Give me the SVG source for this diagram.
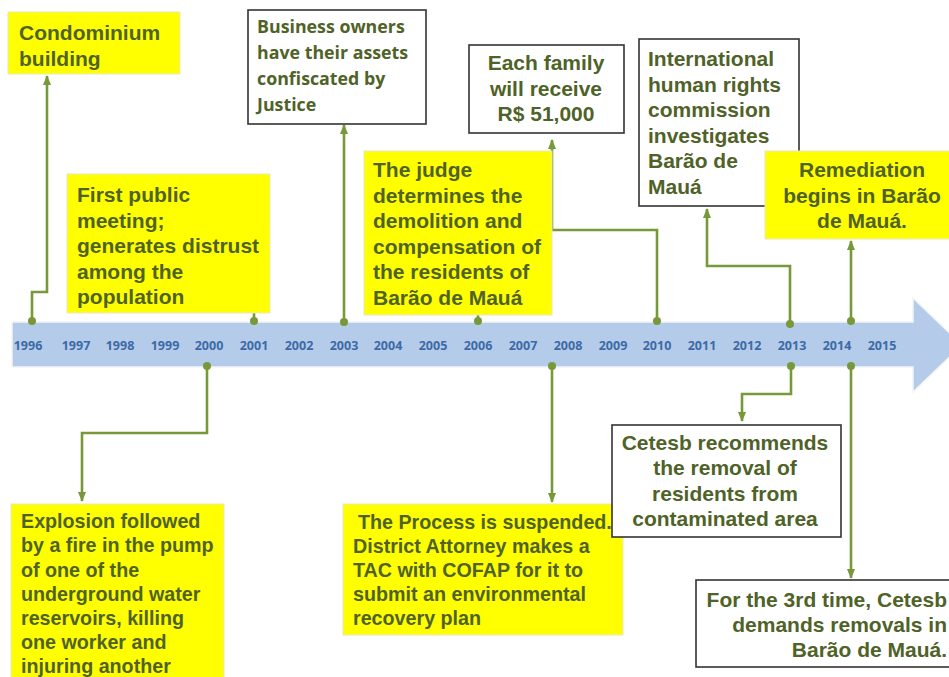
<svg xmlns="http://www.w3.org/2000/svg" width="949" height="677" viewBox="0 0 949 677">
<defs>
<marker id="ah" markerUnits="userSpaceOnUse" markerWidth="10" markerHeight="10" viewBox="0 0 10 10" refX="9" refY="5" orient="auto"><path d="M0,1 L10,5 L0,9 Z" fill="#77993A"/></marker>
<style>
.y{fill:#FFFF00;stroke:#E8E8C0;stroke-width:1}
.w{fill:#FFFFFF;stroke:#333333;stroke-width:1.6}
.t{font-family:"Liberation Sans",Arial,sans-serif;font-weight:bold;font-size:21px;fill:#4F6228}
.s{font-size:19.7px}
.t2{font-family:"Open Sans","Liberation Sans",sans-serif;font-weight:bold;font-size:17.8px;fill:#4F6228}
.yr{font-family:"Open Sans","Liberation Sans",sans-serif;font-weight:bold;font-size:12.5px;fill:#3D6AA6;text-anchor:middle}
.c{fill:none;stroke:#77993A;stroke-width:2.6}
.d{fill:#77993A}
</style>
</defs>
<rect width="949" height="677" fill="#FFFFFF"/>
<g id="timeline">
<polygon points="12,322 913,322 913,298 962,345 913,392 913,367 12,367" fill="#B4CCE9" stroke="#F2F4F8" stroke-width="1.5"/>
<text class="yr" x="28" y="350">1996</text>
<text class="yr" x="76" y="350">1997</text>
<text class="yr" x="120" y="350">1998</text>
<text class="yr" x="165" y="350">1999</text>
<text class="yr" x="209" y="350">2000</text>
<text class="yr" x="254" y="350">2001</text>
<text class="yr" x="299" y="350">2002</text>
<text class="yr" x="344" y="350">2003</text>
<text class="yr" x="388" y="350">2004</text>
<text class="yr" x="433" y="350">2005</text>
<text class="yr" x="478" y="350">2006</text>
<text class="yr" x="523" y="350">2007</text>
<text class="yr" x="568" y="350">2008</text>
<text class="yr" x="613" y="350">2009</text>
<text class="yr" x="657" y="350">2010</text>
<text class="yr" x="702" y="350">2011</text>
<text class="yr" x="747" y="350">2012</text>
<text class="yr" x="792" y="350">2013</text>
<text class="yr" x="837" y="350">2014</text>
<text class="yr" x="882" y="350">2015</text>
</g>
<g id="connectors">
<polyline class="c" points="32,321 32,292 47,292 47,76" marker-end="url(#ah)"/>
<polyline class="c" points="254,321 254,313"/>
<polyline class="c" points="344,321 344,125" marker-end="url(#ah)"/>
<polyline class="c" points="478,321 478,315"/>
<polyline class="c" points="657,321 657,230 552,230 552,140" marker-end="url(#ah)"/>
<polyline class="c" points="790,323 790,266 707,266 707,209" marker-end="url(#ah)"/>
<polyline class="c" points="851,321 851,241" marker-end="url(#ah)"/>
<polyline class="c" points="207,366 207,433 82,433 82,501" marker-end="url(#ah)"/>
<polyline class="c" points="552,366 552,502" marker-end="url(#ah)"/>
<polyline class="c" points="791,366 791,394 742,394 742,421" marker-end="url(#ah)"/>
<polyline class="c" points="851,366 851,578" marker-end="url(#ah)"/>
<circle class="d" cx="32" cy="321" r="4"/>
<circle class="d" cx="254" cy="321" r="4"/>
<circle class="d" cx="344" cy="322" r="4"/>
<circle class="d" cx="478" cy="321" r="4"/>
<circle class="d" cx="657" cy="321" r="4"/>
<circle class="d" cx="790" cy="324" r="4"/>
<circle class="d" cx="851" cy="321" r="4"/>
<circle class="d" cx="207" cy="366" r="4"/>
<circle class="d" cx="552" cy="366" r="4"/>
<circle class="d" cx="791" cy="366" r="4"/>
<circle class="d" cx="851" cy="366" r="4"/>
</g>
<g id="n1996">
<rect class="y" x="8" y="12" width="172" height="62"/>
<text class="t" x="19" y="40">Condominium</text>
<text class="t" x="19" y="66">building</text>
</g>
<g id="n2001">
<rect class="y" x="67" y="174" width="203" height="139"/>
<text class="t" x="77" y="202">First public</text>
<text class="t" x="77" y="227.5">meeting;</text>
<text class="t" x="77" y="253">generates distrust</text>
<text class="t" x="77" y="278.5">among the</text>
<text class="t" x="77" y="304">population</text>
</g>
<g id="n2003">
<rect class="w" x="248" y="10" width="178" height="114"/>
<text class="t2" x="257" y="33">Business owners</text>
<text class="t2" x="257" y="59">have their assets</text>
<text class="t2" x="257" y="85">confiscated by</text>
<text class="t2" x="257" y="111">Justice</text>
</g>
<g id="n2006">
<rect class="y" x="364" y="151" width="188" height="164"/>
<text class="t" x="373" y="177">The judge</text>
<text class="t" x="373" y="202.5">determines the</text>
<text class="t" x="373" y="228">demolition and</text>
<text class="t" x="373" y="253.5">compensation of</text>
<text class="t" x="373" y="279">the residents of</text>
<text class="t" x="373" y="305">Barão de Mauá</text>
</g>
<g id="n2010">
<rect class="w" x="469" y="45" width="155" height="88"/>
<text class="t" x="546" y="70" text-anchor="middle">Each family</text>
<text class="t" x="546" y="96" text-anchor="middle">will receive</text>
<text class="t" x="546" y="121" text-anchor="middle">R$ 51,000</text>
</g>
<g id="n2013a">
<rect class="w" x="639" y="39" width="160" height="167"/>
<text class="t" x="648" y="66">International</text>
<text class="t" x="648" y="92">human rights</text>
<text class="t" x="648" y="117">commission</text>
<text class="t" x="648" y="143">investigates</text>
<text class="t" x="648" y="168">Barão de</text>
<text class="t" x="648" y="194">Mauá</text>
</g>
<g id="n2014a">
<rect class="y" x="765" y="151" width="190" height="88"/>
<text class="t" x="862" y="177" text-anchor="middle">Remediation</text>
<text class="t" x="862" y="203" text-anchor="middle">begins in Barão</text>
<text class="t" x="862" y="228" text-anchor="middle">de Mauá.</text>
</g>
<g id="n2000">
<rect class="y" x="11" y="504" width="213" height="180"/>
<text class="t s" x="21" y="528">Explosion followed</text>
<text class="t s" x="21" y="552">by a fire in the pump</text>
<text class="t s" x="21" y="577">of one of the</text>
<text class="t s" x="21" y="601">underground water</text>
<text class="t s" x="21" y="625">reservoirs, killing</text>
<text class="t s" x="21" y="649">one worker and</text>
<text class="t s" x="21" y="673">injuring another</text>
</g>
<g id="n2008">
<rect class="y" x="343" y="504" width="280" height="131"/>
<text class="t s" x="358" y="529">The Process is suspended.</text>
<text class="t s" x="353" y="553">District Attorney makes a</text>
<text class="t s" x="353" y="577">TAC with COFAP for it to</text>
<text class="t s" x="353" y="601">submit an environmental</text>
<text class="t s" x="353" y="625">recovery plan</text>
</g>
<g id="n2013b">
<rect class="w" x="612" y="425" width="229" height="112"/>
<text class="t" x="725" y="450" text-anchor="middle">Cetesb recommends</text>
<text class="t" x="725" y="475" text-anchor="middle">the removal of</text>
<text class="t" x="725" y="501" text-anchor="middle">residents from</text>
<text class="t" x="725" y="526" text-anchor="middle">contaminated area</text>
</g>
<g id="n2014b">
<rect class="w" x="696" y="580" width="270" height="87"/>
<text class="t" x="947" y="607" text-anchor="end">For the 3rd time, Cetesb</text>
<text class="t" x="947" y="632" text-anchor="end">demands removals in</text>
<text class="t" x="947" y="657" text-anchor="end">Barão de Mauá.</text>
</g>
</svg>
